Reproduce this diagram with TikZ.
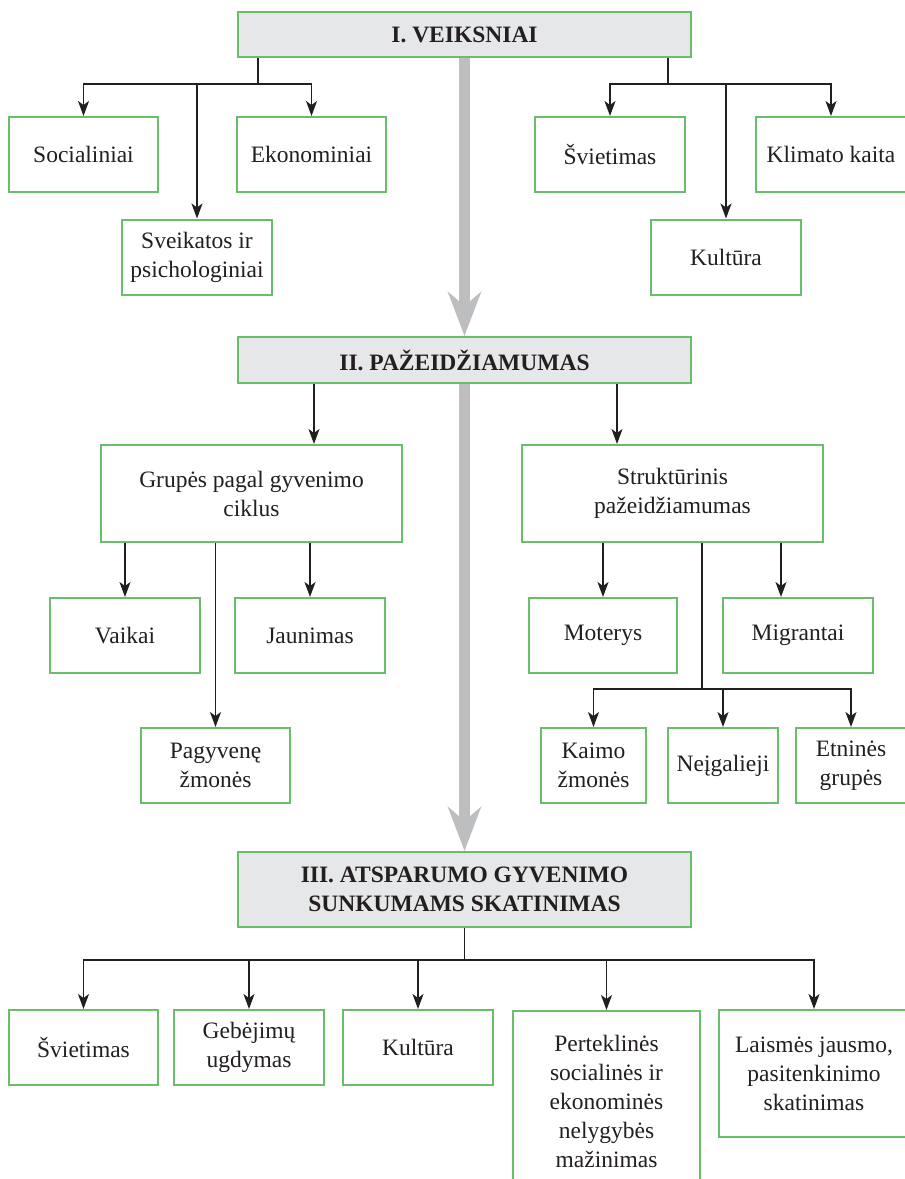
\documentclass[tikz,border=0pt]{standalone}
\usepackage{fontspec}
\setmainfont{Liberation Serif}
\usetikzlibrary{arrows.meta}
\usepackage{xcolor}
\definecolor{mygreen}{RGB}{106,190,105}
\definecolor{mygray}{RGB}{230,231,232}
\definecolor{myarrow}{RGB}{188,190,192}
\definecolor{mytext}{RGB}{35,31,32}

\begin{document}
\begin{tikzpicture}[x=1pt,y=-1pt,>={Stealth[length=15pt,width=11pt,inset=4pt]},
  feld/.style={draw=mygreen, line width=2pt, fill=white, text=mytext, align=center, inner sep=0pt,
    minimum width=149pt, minimum height=75pt, font=\fontsize{23.5}{29}\selectfont},
  kopf/.style={feld, fill=mygray, minimum width=453pt, font=\fontsize{23.5}{29}\selectfont\bfseries},
  linie/.style={draw=mytext, line width=1.5pt}]
\clip (0,0) rectangle (905,1179);

%Ebene I mit Unterpunkten
\node[kopf, minimum height=45pt] (vI) at (464.5,34.5) {I. VEIKSNIAI};
\node[feld] (soz) at (83.5,154.5) {Socialiniai};
\node[feld] (eko) at (311.5,154.5) {Ekonominiai};
\node[feld, minimum width=150pt] (svk) at (197,257) {Sveikatos ir\\psichologiniai};
\node[feld, minimum width=150pt] (svi) at (610,154.5) {Švietimas};
\node[feld, minimum width=150pt] (kli) at (831,154.5) {Klimato kaita};
\node[feld, minimum width=150pt] (kul) at (726,257) {Kultūra};

\coordinate (jIa) at (258,84);
\coordinate (jIb) at (668,84);
\draw[linie] (vI.south -| jIa) to (jIa);
\draw[linie, ->] (jIa) -| (soz.north);
\draw[linie, ->] (jIa) -| (eko.north);
\draw[linie, ->] (svk.north |- jIa) to (svk.north);
\draw[linie] (vI.south -| jIb) to (jIb);
\draw[linie, ->] (jIb) -| (svi.north);
\draw[linie, ->] (jIb) -| (kli.north);
\draw[linie, ->] (kul.north |- jIb) to (kul.north);

%Ebene II mit Gruppen
\node[kopf, minimum height=46pt] (vII) at (464.5,360) {II. PAŽEIDŽIAMUMAS};
\node[feld, minimum width=301pt, minimum height=97pt] (grp) at (251.5,493.5) {Grupės pagal gyvenimo\\ciklus};
\node[feld, minimum width=301pt, minimum height=97pt] (str) at (672.5,493.5) {Struktūrinis\\pažeidžiamumas};
\node[feld, minimum width=150pt] (vai) at (125,635.5) {Vaikai};
\node[feld, minimum width=150pt] (jau) at (310,635.5) {Jaunimas};
\node[feld] (pag) at (215.5,765.5) {Pagyvenę\\žmonės};
\node[feld, minimum width=148pt] (mot) at (603,635.5) {Moterys};
\node[feld, minimum width=150pt] (mig) at (798,635.5) {Migrantai};
\node[feld, minimum width=105pt] (kai) at (593.5,765.5) {Kaimo\\žmonės};
\node[feld, minimum width=110pt] (nei) at (723,765.5) {Neįgalieji};
\node[feld, minimum width=110pt] (etn) at (851,765.5) {Etninės\\grupės};

\coordinate (aL) at (314,0);
\coordinate (aR) at (617,0);
\coordinate (aM) at (781,0);
\coordinate (jII) at (702,689);
\draw[linie, ->] (vII.south -| aL) to (grp.north -| aL);
\draw[linie, ->] (vII.south -| aR) to (str.north -| aR);
\draw[linie, ->] (grp.south -| vai.north) to (vai.north);
\draw[linie, ->] (grp.south -| jau.north) to (jau.north);
\draw[linie, ->] (grp.south -| pag.north) to (pag.north);
\draw[linie, ->] (str.south -| mot.north) to (mot.north);
\draw[linie, ->] (str.south -| aM) to (mig.north -| aM);
\draw[linie] (str.south -| jII) to (jII);
\draw[linie, ->] (jII) -| (kai.north);
\draw[linie, ->] (jII) -| (etn.north);
\draw[linie, ->] (nei.north |- jII) to (nei.north);

%Ebene III unten
\node[kopf, minimum height=75pt] (vIII) at (464.5,889.5) {III. ATSPARUMO GYVENIMO\\SUNKUMAMS SKATINIMAS};
\node[feld] (bsv) at (83.5,1047.5) {Švietimas};
\node[feld, minimum width=150pt] (geb) at (249,1047.5) {Gebėjimų\\ugdymas};
\node[feld, minimum width=150pt] (bku) at (418,1047.5) {Kultūra};
\node[feld, minimum width=187pt, minimum height=180pt, anchor=north] (per) at (606.5,1010) {Perteklinės\\socialinės ir\\ekonominės\\nelygybės\\mažinimas};
\node[feld, minimum width=190pt, minimum height=127pt] (lai) at (814,1073.5) {Laismės jausmo,\\pasitenkinimo\\skatinimas};

\coordinate (jIII) at (464.5,960);
\draw[linie] (vIII.south) to (jIII);
\draw[linie, ->] (jIII) -| (bsv.north);
\draw[linie, ->] (jIII) -| (lai.north);
\draw[linie, ->] (geb.north |- jIII) to (geb.north);
\draw[linie, ->] (bku.north |- jIII) to (bku.north);
\draw[linie, ->] (per.north |- jIII) to (per.north);

%Grauer Pfeil in der Mitte
\draw[draw=myarrow, line width=11pt, -{Stealth[length=44pt,width=33pt,inset=14pt,fill=myarrow]}] (vI.south) to (vII.north);
\draw[draw=myarrow, line width=11pt, -{Stealth[length=44pt,width=33pt,inset=14pt,fill=myarrow]}] (vII.south) to (vIII.north);

\end{tikzpicture}
\end{document}
